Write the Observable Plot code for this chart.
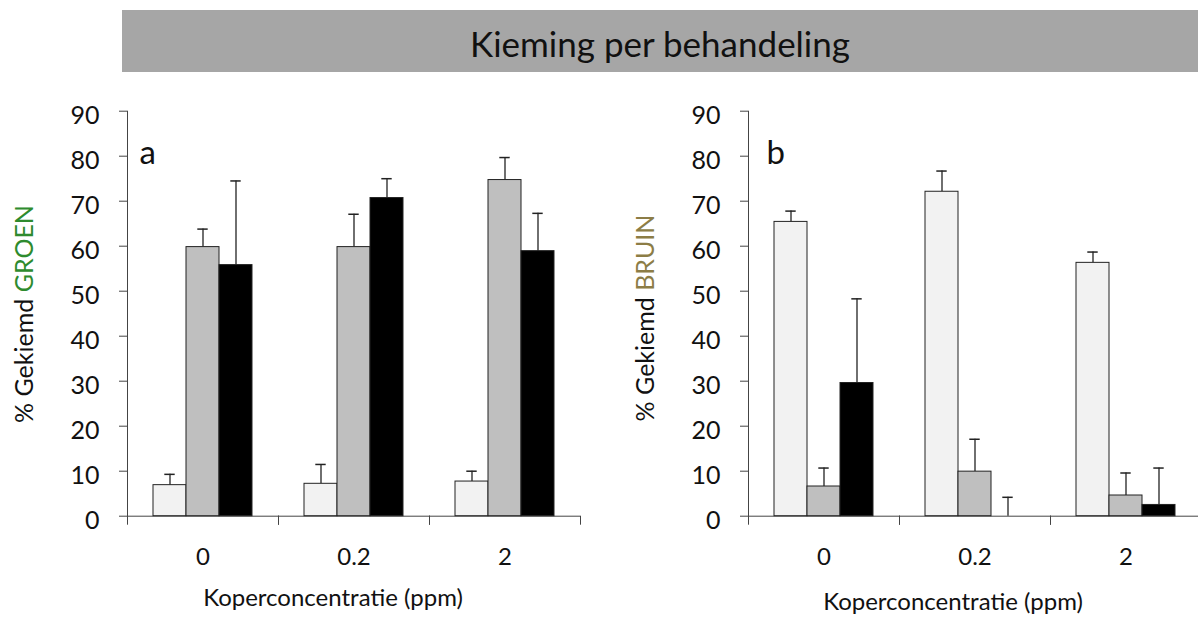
<!DOCTYPE html>
<html>
<head>
<meta charset="utf-8">
<script src="https://cdn.jsdelivr.net/npm/d3@7"></script>
<script src="https://cdn.jsdelivr.net/npm/@observablehq/plot@0.6"></script>
<style>
html, body { margin: 0; padding: 0; background: #fff; overflow: hidden; }
#page { position: relative; width: 1198px; height: 617px; font-family: Lato, "Open Sans", sans-serif; color: #111; overflow: hidden; }
#banner { position: absolute; left: 122px; top: 10px; width: 1076px; height: 62px; background: #a6a6a6; }
#banner h1 { margin: 0; padding-top: 4px; font-weight: 400; font-size: 35px; line-height: 58px; text-align: center; color: #111; }
.chart { position: absolute; top: 80px; width: 600px; }
.chart svg { max-width: none; }
.xtitle { position: absolute; font-size: 24px; line-height: 24px; white-space: nowrap; transform: translateX(-50%); }
.ytitle { position: absolute; font-size: 25px; line-height: 25px; white-space: nowrap; transform: translate(-50%, -50%) rotate(-90deg); }
</style>
</head>
<body>
<div id="page">
  <div id="banner"><h1>Kieming per behandeling</h1></div>
  <div class="chart" id="chartA" style="left:0px"></div>
  <div class="chart" id="chartB" style="left:621px"></div>
  <div class="ytitle" style="left:23px; top:314px">% Gekiemd <span style="color:#2e8b2e">GROEN</span></div>
  <div class="ytitle" style="left:644px; top:318px">% Gekiemd <span style="color:#8c7d46">BRUIN</span></div>
  <div class="xtitle" style="left:333px; top:585px">Koperconcentratie (ppm)</div>
  <div class="xtitle" style="left:953px; top:589px">Koperconcentratie (ppm)</div>
</div>
<script>
// ---- data ----
const concentrations = ["0", "0.2", "2"];
const series = ["Serie 1", "Serie 2", "Serie 3"];
const seriesColors = ["#f2f2f2", "#bfbfbf", "#000000"];
const yTicks = [0, 10, 20, 30, 40, 50, 60, 70, 80, 90];

// panel a: % gekiemd GROEN (per concentration 0, 0.2, 2)
const groenS1 = [6.9, 7.2, 7.7];
const groenS2 = [59.8, 59.8, 74.7];
const groenS3 = [55.8, 70.7, 58.9];
const groenS1Err = [2.4, 4.3, 2.3];
const groenS2Err = [4.0, 7.3, 5.0];
const groenS3Err = [18.7, 4.3, 8.4];

// panel b: % gekiemd BRUIN
const bruinS1 = [65.4, 72.1, 56.3];
const bruinS2 = [6.6, 9.9, 4.6];
const bruinS3 = [29.6, 0, 2.5];
const bruinS1Err = [2.4, 4.6, 2.4];
const bruinS2Err = [4.1, 7.2, 5.0];
const bruinS3Err = [18.7, 4.2, 8.2];

function rows(means, errs) {
  return concentrations.flatMap((c, i) =>
    series.map((s, j) => ({conc: c, series: s, value: means[j][i], err: errs[j][i]})));
}

const W = 591, H = 537, ML = 126, MR = 10, MT = 30.7, MB = 101.3;
const frameH = H - MT - MB;

function chart(data, letter, letterDx) {
  return Plot.plot({
    width: W, height: H,
    marginLeft: ML, marginRight: MR, marginTop: MT, marginBottom: MB,
    style: {fontFamily: "Lato, 'Open Sans', sans-serif", fontSize: "24px", color: "#111", background: "transparent", overflow: "visible", maxWidth: "none"},
    fx: {domain: concentrations, padding: 0, label: null},
    x: {domain: series, paddingInner: 0, paddingOuter: 0.75, axis: null},
    y: {domain: [0, 90], label: null},
    color: {domain: series, range: seriesColors},
    marks: [
      Plot.axisY({ticks: yTicks, tickSize: 8, tickFormat: () => "", label: null, stroke: "#444"}),
      Plot.axisY({ticks: yTicks, tickSize: 0, tickPadding: 28, dy: 5, fontSize: 25, label: null}),
      Plot.axisFx({anchor: "bottom", tickSize: 0, tickPadding: 32, fontSize: 24, label: null}),
      Plot.frame({anchor: "left", facetAnchor: "left", stroke: "#444"}),
      Plot.frame({anchor: "left", insetTop: frameH, insetBottom: -8, stroke: "#444"}),
      Plot.frame({anchor: "right", insetTop: frameH, insetBottom: -8, stroke: "#444"}),
      Plot.ruleY([0], {stroke: "#444"}),
      Plot.ruleX(data, {fx: "conc", x: "series", y1: "value", y2: d => d.value + d.err, stroke: "#222", strokeWidth: 1.3}),
      Plot.tickY(data, {fx: "conc", x: "series", y: d => d.value + d.err, insetLeft: 11.3, insetRight: 11.3, stroke: "#222", strokeWidth: 1.5}),
      Plot.barY(data, {fx: "conc", x: "series", y: "value", fill: "series", stroke: "#222", strokeWidth: 1}),
      Plot.text([{conc: concentrations[0], t: letter}], {fx: "conc", text: "t", frameAnchor: "top-left", textAnchor: "start", dx: letterDx, dy: 29, fontSize: 33, fill: "#111"})
    ]
  });
}

document.getElementById("chartA").append(chart(rows([groenS1, groenS2, groenS3], [groenS1Err, groenS2Err, groenS3Err]), "a", 12));
document.getElementById("chartB").append(chart(rows([bruinS1, bruinS2, bruinS3], [bruinS1Err, bruinS2Err, bruinS3Err]), "b", 18));
</script>
</body>
</html>
